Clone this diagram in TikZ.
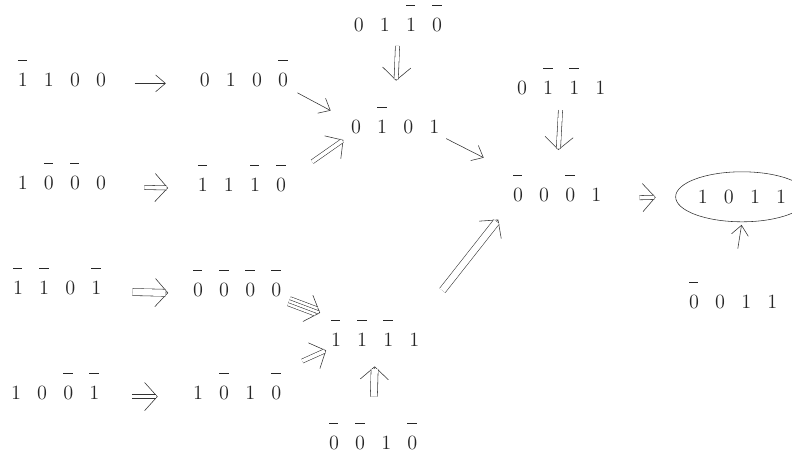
\documentclass[tikz,border=0pt]{standalone}
\usepackage{amsmath, amssymb}
\usepackage{tikz}
\usetikzlibrary{shapes,calc}
\usetikzlibrary{arrows.meta,calc,positioning}

\newcommand{\gp}{\hspace{0.8em}}
\newcommand{\nb}[1]{\rlap{\raisebox{18pt}{\rule{0.46em}{0.9pt}}}#1}
\tikzset{
  bits/.style={font=\Large, inner sep=2pt, text=black!85, text height=19.5pt, text depth=0pt, anchor=base},
  ringed/.style={bits, anchor=center, text height=9.3pt, draw=black!80, thin, ellipse, minimum width=2.9cm, minimum height=1.25cm},
  one/.style={thin, draw=black!80, -{Straight Barb[length=7pt,width=12pt,color=black!80]}},
  big/.style={thin, draw=black!80, -{Straight Barb[length=9pt,width=20pt,color=black!80]}},
  ghost/.style={big, draw=white},
  pair/.style={thin, draw=black!80, double, double distance=#1},
}

\begin{document}
\begin{tikzpicture}
        \useasboundingbox (0,0) rectangle (19.8,11.45);
        % the words, column by column
        \node[bits] (n1100) at (1.55,9.29) {$\nb{1}\gp 1\gp 0\gp 0$};
        \node[bits] (n1000) at (1.55,6.71) {$1\gp \nb{0}\gp \nb{0}\gp 0$};
        \node[bits] (n1101) at (1.43,4.09) {$\nb{1}\gp \nb{1}\gp 0\gp \nb{1}$};
        \node[bits] (n1001) at (1.38,1.46) {$1\gp 0\gp \nb{0}\gp \nb{1}$};
        \node[bits] (n0100) at (6.1,9.29) {$0\gp 1\gp 0\gp \nb{0}$};
        \node[bits] (n1110) at (6.05,6.66) {$\nb{1}\gp 1\gp \nb{1}\gp \nb{0}$};
        \node[bits] (n0000) at (5.93,4.04) {$\nb{0}\gp \nb{0}\gp \nb{0}\gp \nb{0}$};
        \node[bits] (n1010) at (5.93,1.46) {$1\gp \nb{0}\gp 1\gp \nb{0}$};
        \node[bits] (n0110) at (9.95,10.66) {$0\gp 1\gp \nb{1}\gp \nb{0}$};
        \node[bits] (n0101) at (9.88,8.11) {$0\gp \nb{1}\gp 0\gp 1$};
        \node[bits] (n1111) at (9.38,2.79) {$\nb{1}\gp \nb{1}\gp \nb{1}\gp 1$};
        \node[bits] (n0010) at (9.33,0.21) {$\nb{0}\gp \nb{0}\gp 1\gp \nb{0}$};
        \node[bits] (n0111) at (14.03,9.09) {$0\gp \nb{1}\gp \nb{1}\gp 1$};
        \node[bits] (n0001) at (13.93,6.41) {$\nb{0}\gp 0\gp \nb{0}\gp 1$};
        \node[ringed] (n1011) at (18.55,6.53) {$1\gp 0\gp 1\gp 1$};
        \node[bits] (n0011) at (18.33,3.74) {$\nb{0}\gp 0\gp 1\gp 1$};
        % single arrows
        \draw[one, shorten <=18pt, shorten >=22pt] (n1100.mid east) -- (n0100.mid west);
        \draw[one, shorten <=5pt, shorten >=14pt] (n0100.south east) -- (n0101.west);
        \draw[one, shorten <=3pt, shorten >=21pt] (n0101.south east) -- (n0001.north west);
        \draw[one, shorten <=21pt, shorten >=2pt] (n0011.north) -- (n1011.south);
        % double arrows
        \draw[ghost, shorten <=25pt, shorten >=19pt] (n1000.mid east) -- (n1110.mid west);
        \draw[pair=2.6pt, shorten <=25pt, shorten >=20pt] (n1000.mid east) -- (n1110.mid west);
        \draw[ghost, shorten <=21pt, shorten >=23pt] (n1001.mid east) -- (n1010.mid west);
        \draw[pair=2.6pt, shorten <=21pt, shorten >=24pt] (n1001.mid east) -- (n1010.mid west);
        \draw[ghost, shorten <=20pt, shorten >=4pt] (n1110.east) -- (n0101.south west);
        \draw[pair=2.6pt, shorten <=20pt, shorten >=5pt] (n1110.east) -- (n0101.south west);
        \draw[ghost, shorten <=8pt, shorten >=16pt] (n0110.south) -- (n0101.north);
        \draw[pair=2.6pt, shorten <=8pt, shorten >=17pt] (n0110.south) -- (n0101.north);
        \draw[ghost, shorten <=9pt, shorten >=15pt] (n0111.south) -- (n0001.north);
        \draw[pair=2.6pt, shorten <=9pt, shorten >=16pt] (n0111.south) -- (n0001.north);
        \draw[ghost, shorten <=25pt, shorten >=14pt] (n0001.mid east) -- (n1011.west);
        \draw[pair=2.6pt, shorten <=25pt, shorten >=15pt] (n0001.mid east) -- (n1011.west);
        \draw[ghost, shorten <=14pt, shorten >=1.5pt] (n1010.north east) -- (n1111.south west);
        \draw[pair=2.6pt, shorten <=14pt, shorten >=2.5pt] (n1010.north east) -- (n1111.south west);
        % triple arrows
        \draw[big, shorten <=20pt, shorten >=15.5pt] (n1101.mid east) -- (n0000.mid west);
        \draw[pair=4.6pt, shorten <=20pt, shorten >=17.5pt] (n1101.mid east) -- (n0000.mid west);
        \draw[big, shorten <=16pt, shorten >=12pt] (n0010.north) -- (n1111.south);
        \draw[pair=4.6pt, shorten <=16pt, shorten >=14pt] (n0010.north) -- (n1111.south);
        \draw[big, shorten <=23pt, shorten >=13.5pt] (n1111.north east) -- (n0001.south west);
        \draw[pair=4.6pt, shorten <=23pt, shorten >=15.5pt] (n1111.north east) -- (n0001.south west);
        % the four-fold one
        \draw[ghost, shorten <=3.5pt, shorten >=6pt] (n0000.south east) -- (n1111.north west);
        \draw[pair=6.4pt, shorten <=3.5pt, shorten >=9pt] (n0000.south east) -- (n1111.north west);
        \draw[pair=1.8pt, shorten <=3.5pt, shorten >=7pt] (n0000.south east) -- (n1111.north west);
      \end{tikzpicture}
\end{document}
